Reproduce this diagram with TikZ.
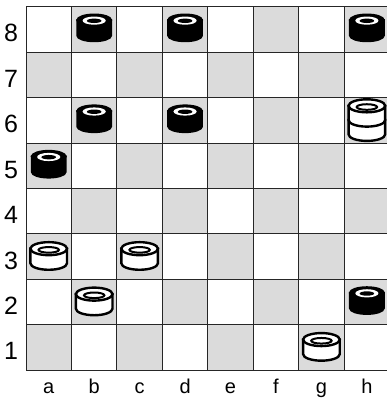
\documentclass[tikz,border=0pt]{standalone}
\usepackage{fontspec}
\setmainfont{Liberation Sans}
\begin{document}
\begin{tikzpicture}[x=1pt,y=1pt,
  darksq/.style={fill=black!14},
  gridline/.style={draw=black!85,line width=0.9},
  ranklabel/.style={font=\fontsize{25}{25}\selectfont,anchor=base,inner sep=0},
  filelabel/.style={font=\fontsize{20}{20}\selectfont,anchor=base,inner sep=0},
  wman/.pic={
    \filldraw[fill=white,draw=black,line width=2.4] (-18.3,8) -- (-18.3,-6.6)
      arc[start angle=180,end angle=360,x radius=18.3,y radius=6.5] -- (18.3,8) -- cycle;
    \filldraw[fill=white,draw=black,line width=2.4] (0,8) ellipse[x radius=18.3,y radius=6.5];
    \draw[line width=2] (0,6.8) ellipse[x radius=10.2,y radius=2.8];
  },
  bman/.pic={
    \filldraw[fill=black,draw=black,line width=2.2] (-16.8,9.2) -- (-16.8,-6.1)
      arc[start angle=180,end angle=360,x radius=16.8,y radius=5.6] -- (16.8,9.2) -- cycle;
    \filldraw[fill=black,draw=black,line width=2.2] (0,9.2) ellipse[x radius=16.8,y radius=5.6];
    \fill[white] (0,8.8) ellipse[x radius=11.6,y radius=4.1];
    \fill[black] (0,8.6) ellipse[x radius=7.3,y radius=2.2];
  },
  wking/.pic={
    \filldraw[fill=white,draw=black,line width=2.4] (-18.3,0.2) -- (-18.3,-14.1)
      arc[start angle=180,end angle=360,x radius=18.3,y radius=6.5] -- (18.3,0.2) -- cycle;
    \filldraw[fill=white,draw=black,line width=2.4] (-18.3,14.5) -- (-18.3,0.2)
      arc[start angle=180,end angle=360,x radius=18.3,y radius=6.5] -- (18.3,14.5) -- cycle;
    \filldraw[fill=white,draw=black,line width=2.4] (0,14.5) ellipse[x radius=18.3,y radius=6.5];
    \draw[line width=2] (0,13.3) ellipse[x radius=10.2,y radius=2.8];
  }]
\def\sq{45.45}
\useasboundingbox (0,0) rectangle (387,398);
\clip (0,0) rectangle (387,398);
\fill[white] (0,0) rectangle (387,398);
% squares
\foreach \c in {1,...,8} {
  \foreach \r in {1,...,8} {
    \coordinate (s\c\r) at ({26+(\c-0.5)*\sq},{-17.75+(\r+0.5)*\sq});
    \pgfmathtruncatemacro\p{mod(\c+\r,2)}
    \ifnum\p=0
      \fill[darksq] ({26+(\c-1)*\sq},{-17.75+\r*\sq}) rectangle ++(\sq,\sq);
    \fi
  }
}
% grid
\foreach \i in {0,...,8} {
  \draw[gridline] ({26+\i*\sq},27.7) -- ({26+\i*\sq},391.3);
  \draw[gridline] (26,{27.7+\i*\sq}) -- (389.6,{27.7+\i*\sq});
}
% labels
\foreach \r in {1,...,8} {
  \node[ranklabel] (r\r) at (11,{-17.75+(\r+0.5)*\sq-12.4}) {\r};
}
\foreach \c/\l in {1/a,2/b,3/c,4/d,5/e,6/f,7/g,8/h} {
  \node[filelabel] (f\l) at ({26+(\c-0.5)*\sq},4.6) {\l};
}
% black men
\foreach \s in {s28,s48,s88,s26,s46,s15,s82} { \pic at (\s) {bman}; }
% white men
\foreach \s in {s13,s33,s22,s71} { \pic at (\s) {wman}; }
% white king
\pic at (s86) {wking};
\end{tikzpicture}
\end{document}
